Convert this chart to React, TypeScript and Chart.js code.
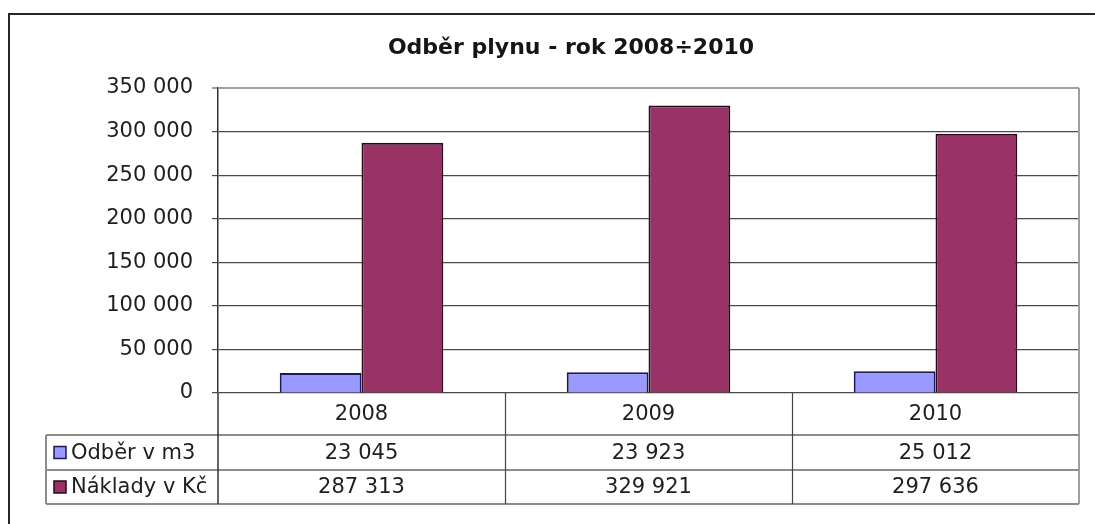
import React, { useEffect, useRef } from "react";
import { Chart, registerables } from "chart.js";

Chart.register(...registerables);

const titleText = "Odběr plynu - rok 2008÷2010";
const categories = ["2008", "2009", "2010"];
const seriesNames = ["Odběr v m3", "Náklady v Kč"];
const consumption = [23045, 23923, 25012];
const costs = [287313, 329921, 297636];
const yMax = 350000;
const yStep = 50000;

const fmt = (v: number) => String(v).replace(/\B(?=(\d{3})+(?!\d))/g, " ");

const blueFill = "#9999ff";
const blueBorder = "#1a1a55";
const redFill = "#993366";
const redBorder = "#2a0a1c";
const FONT = "'DejaVu Sans', 'Liberation Sans', Arial, sans-serif";

const tablePlugin = {
  id: "tablePlugin",
  afterDraw(chart: any) {
    const ctx = chart.ctx as CanvasRenderingContext2D;
    const area = chart.chartArea;
    const xs = chart.scales.x;
    const n = categories.length;
    const catW = (area.right - area.left) / n;
    const rowH = [42, 35, 34];
    const y0 = area.bottom;
    const y1 = y0 + rowH[0];
    const y2 = y1 + rowH[1];
    const y3 = y2 + rowH[2];
    const tableLeft = 46;

    ctx.save();
    // outer frame
    ctx.strokeStyle = "#262626";
    ctx.lineWidth = 2;
    ctx.strokeRect(9, 14, 1200, 700);

    // title
    ctx.fillStyle = "#151515";
    ctx.font = `bold 22px ${FONT}`;
    ctx.textAlign = "center";
    ctx.textBaseline = "middle";
    ctx.fillText(titleText, 571, 48);

    // plot area top/right border
    ctx.strokeStyle = "#a0a0a0";
    ctx.lineWidth = 2;
    ctx.beginPath();
    ctx.moveTo(area.left, area.top);
    ctx.lineTo(area.right, area.top);
    ctx.moveTo(area.right, area.top);
    ctx.lineTo(area.right, y3);
    ctx.stroke();

    // table horizontal lines
    ctx.strokeStyle = "#8c8c8c";
    ctx.lineWidth = 2;
    ctx.beginPath();
    [y1, y2, y3].forEach((y) => {
      ctx.moveTo(tableLeft, y);
      ctx.lineTo(area.right, y);
    });
    ctx.moveTo(tableLeft, y1);
    ctx.lineTo(tableLeft, y3);
    ctx.stroke();

    // vertical column separators
    ctx.strokeStyle = "#444";
    ctx.lineWidth = 1.2;
    ctx.beginPath();
    for (let i = 1; i < n; i++) {
      const x = Math.round(area.left + catW * i) + 0.5;
      ctx.moveTo(x, y0);
      ctx.lineTo(x, y3);
    }
    ctx.stroke();
    ctx.strokeStyle = "#333";
    ctx.lineWidth = 1.5;
    ctx.beginPath();
    ctx.moveTo(area.left, y0);
    ctx.lineTo(area.left, y3);
    ctx.stroke();

    // texts
    ctx.fillStyle = "#1e1e1e";
    ctx.font = `21px ${FONT}`;
    ctx.textAlign = "center";
    ctx.textBaseline = "middle";
    categories.forEach((c, i) => {
      const cx = xs.getPixelForValue(i);
      ctx.fillText(c, cx, (y0 + y1) / 2 + 1);
      ctx.fillText(fmt(consumption[i]), cx, (y1 + y2) / 2 + 1);
      ctx.fillText(fmt(costs[i]), cx, (y2 + y3) / 2 + 1);
    });

    // legend markers + labels
    const rows = [
      { y: (y1 + y2) / 2, fill: blueFill, border: blueBorder, label: seriesNames[0] },
      { y: (y2 + y3) / 2, fill: redFill, border: redBorder, label: seriesNames[1] },
    ];
    rows.forEach((r) => {
      ctx.fillStyle = r.fill;
      ctx.fillRect(54, r.y - 6, 12, 12);
      ctx.strokeStyle = r.border;
      ctx.lineWidth = 1.5;
      ctx.strokeRect(54, r.y - 6, 12, 12);
      ctx.fillStyle = "#1e1e1e";
      ctx.textAlign = "left";
      ctx.fillText(r.label, 71, r.y + 1);
    });
    ctx.restore();
  },
};

export default function App() {
  const ref = useRef<HTMLCanvasElement | null>(null);

  useEffect(() => {
    if (!ref.current) return;
    const chart = new Chart(ref.current, {
      type: "bar",
      data: {
        labels: categories,
        datasets: [
          {
            label: seriesNames[0],
            data: consumption,
            backgroundColor: blueFill,
            borderColor: blueBorder,
            borderWidth: 2,
          },
          {
            label: seriesNames[1],
            data: costs,
            backgroundColor: redFill,
            borderColor: redBorder,
            borderWidth: 2,
          },
        ],
      },
      options: {
        animation: false,
        responsive: true,
        maintainAspectRatio: false,
        layout: { padding: { left: 0, top: 88, right: 16, bottom: 131 } },
        datasets: { bar: { categoryPercentage: 0.57, barPercentage: 1 } },
        plugins: {
          legend: { display: false },
          tooltip: { enabled: false },
          title: { display: false },
        },
        scales: {
          x: { display: false },
          y: {
            min: 0,
            max: yMax,
            afterFit: (s: any) => {
              s.width = 218;
            },
            ticks: {
              stepSize: yStep,
              padding: 19,
              color: "#1e1e1e",
              font: { family: FONT, size: 21 },
              callback: (v: any) => fmt(Number(v)),
            },
            grid: {
              color: (c: any) => (c.tick && c.tick.value === yMax ? "#a0a0a0" : "#4a4a4a"),
              lineWidth: (c: any) => (c.tick && c.tick.value === yMax ? 2 : 1.2),
              tickLength: 6,
              drawTicks: true,
            },
            border: { display: true, color: "#333", width: 1.5 },
          },
        },
      },
      plugins: [tablePlugin],
    });
    return () => chart.destroy();
  }, []);

  return (
    <div
      style={{
        position: "fixed",
        left: 0,
        top: 0,
        width: 1095,
        height: 524,
        background: "#fff",
      }}
    >
      <canvas ref={ref} />
    </div>
  );
}
